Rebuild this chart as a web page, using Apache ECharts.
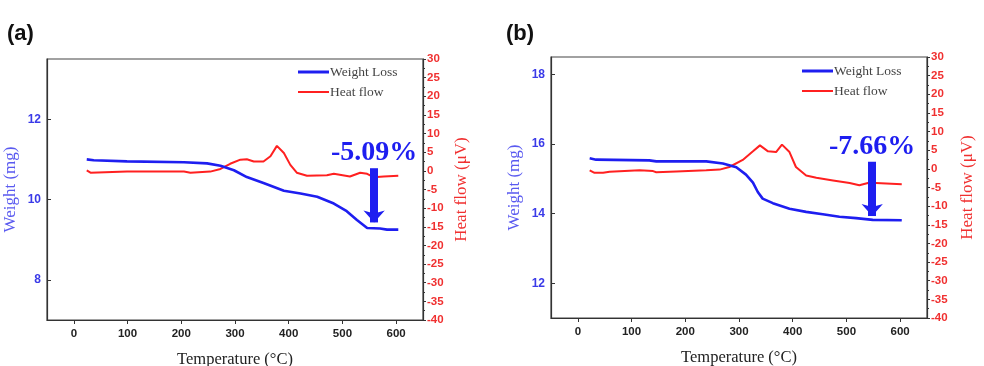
<!DOCTYPE html>
<html>
<head>
<meta charset="utf-8">
<script src="https://cdn.jsdelivr.net/npm/echarts@6/dist/echarts.min.js"></script>
<style>
html,body{margin:0;padding:0;background:#fff;}
#Chart{width:984px;height:366px;}
</style>
</head>
<body>
<div id="Chart"></div>
<script>
// panel (a)
var tempA_w=[24,37,99,205,248,273,298,322,353,391,422,453,484,508,527,546,570,583,604]
var weightA=[11.0,10.98,10.95,10.93,10.9,10.84,10.73,10.56,10.41,10.22,10.15,10.07,9.9,9.71,9.49,9.29,9.28,9.25,9.25]
var tempA_h=[24,31,99,205,217,254,273,291,310,322,335,353,366,378,391,403,415,434,471,484,514,533,546,558,577,604]
var heatA=[0.1,-0.5,-0.2,-0.2,-0.5,-0.2,0.5,1.9,3.0,3.1,2.5,2.5,3.9,6.7,4.8,1.6,-0.5,-1.3,-1.2,-0.8,-1.5,-0.5,-0.8,-1.7,-1.5,-1.3]
var arrowA=[[559,10.78],[559,9.43]]
var lossA='-5.09%'

// panel (b)
var tempB_w=[22,34,133,146,239,270,295,313,326,335,344,363,394,425,456,487,518,549,603]
var weightB=[15.59,15.55,15.53,15.50,15.50,15.44,15.33,15.12,14.89,14.62,14.43,14.30,14.14,14.05,13.98,13.91,13.87,13.82,13.81]
var tempB_h=[22,31,47,59,115,140,146,183,239,264,282,307,326,339,354,369,380,394,406,425,444,475,506,524,540,555,603]
var heatB=[-0.4,-1.05,-1.05,-0.8,-0.4,-0.6,-0.9,-0.7,-0.4,-0.2,0.5,2.4,4.7,6.3,4.7,4.5,6.5,4.5,0.5,-1.8,-2.4,-3.1,-3.8,-4.4,-3.8,-3.8,-4.1]
var arrowB=[[548,15.49],[548,13.93]]
var lossB='-7.66%'

// axes
var xTicks=[0,100,200,300,400,500,600]
var wTicksA=[8,10,12]
var wTicksB=[12,14,16,18]

var blue='#1e1ef0',red='#ff2020'
var serif='"Liberation Serif","Times New Roman",serif'
var sans='"Liberation Sans",Arial,sans-serif'

//组合数据
function pairs(xs,ys){
	var out=[]
	for(var i=0;i<xs.length;i++) out.push([xs[i],ys[i]])
	return out
}

function xAxisCfg(gi){
	return {
		type:'value',gridIndex:gi,min:-50,max:650,
		name:'Temperature (°C)',nameLocation:'middle',nameGap:31,
		nameTextStyle:{fontFamily:serif,fontSize:16.5,color:'#222'},
		axisLine:{show:true,onZero:false,lineStyle:{color:'#333',width:1.2}},
		axisTick:{show:true,inside:false,length:4,customValues:xTicks,lineStyle:{color:'#333'}},
		axisLabel:{customValues:xTicks,fontFamily:sans,fontWeight:'bold',fontSize:11.5,color:'#222',margin:8},
		splitLine:{show:false}
	}
}
function wAxisCfg(gi,min,max,ticks,gap){
	return {
		type:'value',gridIndex:gi,position:'left',min:min,max:max,
		name:'Weight (mg)',nameLocation:'middle',nameGap:gap,nameRotate:90,
		nameTextStyle:{fontFamily:serif,fontSize:17,color:'#5a5af0'},
		axisLine:{show:true,onZero:false,lineStyle:{color:'#333',width:1.2}},
		axisTick:{show:true,inside:true,length:4,customValues:ticks,lineStyle:{color:'#333'}},
		axisLabel:{customValues:ticks,fontFamily:sans,fontWeight:'bold',fontSize:12,color:'#3a3ae8',margin:6},
		splitLine:{show:false}
	}
}
function hAxisCfg(gi,gap){
	return {
		type:'value',gridIndex:gi,position:'right',min:-40,max:30,interval:5,
		name:'Heat flow (μV)',nameLocation:'middle',nameGap:gap,nameRotate:90,
		nameTextStyle:{fontFamily:serif,fontSize:17,color:'#f03030'},
		axisLine:{show:true,onZero:false,lineStyle:{color:'#333',width:1.2}},
		axisTick:{show:true,inside:false,length:3,lineStyle:{color:'#333'}},
		minorTick:{show:true,splitNumber:2,length:2,lineStyle:{color:'#333'}},
		axisLabel:{fontFamily:sans,fontWeight:'bold',fontSize:11.5,color:'#f03030',margin:4},
		splitLine:{show:false}
	}
}
//箭头标注
function arrowLine(pts,txt){
	return {
		silent:true,symbol:['none','arrow'],symbolSize:[16,12],
		lineStyle:{color:blue,width:8,type:'solid'},
		label:{show:true,position:'start',distance:1,formatter:txt,fontFamily:serif,fontWeight:'bold',fontSize:28,color:blue},
		data:[[{coord:pts[0]},{coord:pts[1]}]]
	}
}
function legendCfg(left,top,tag){
	return {
		data:[{name:'Weight Loss '+tag,icon:'path://M0,0H31V3H0Z'},{name:'Heat flow '+tag,icon:'path://M0,0H31V2H0Z'}],
		formatter:function(n){return n.replace(/ [AB]$/,'')},
		orient:'vertical',left:left,top:top,itemWidth:31,itemHeight:3,itemGap:6,
		textStyle:{fontFamily:serif,fontSize:13.5,color:'#444',padding:[0,0,0,-4]}
	}
}

function drawChar(){
	var myChart=echarts.init(document.getElementById('Chart'))
	var option={
		animation:false,
		title:[
			{text:'(a)',left:2,top:18,textStyle:{fontFamily:sans,fontSize:22,fontWeight:'bold',color:'#111'}},
			{text:'(b)',left:501,top:18,textStyle:{fontFamily:sans,fontSize:22,fontWeight:'bold',color:'#111'}}
		],
		legend:[legendCfg(293,60,'A'),legendCfg(797,59,'B')],
		grid:[
			{left:47,top:59,width:376,height:261,outerBoundsMode:'none',show:true,borderColor:'#444',borderWidth:1.2,backgroundColor:'transparent'},
			{left:551,top:57,width:376,height:261,outerBoundsMode:'none',show:true,borderColor:'#444',borderWidth:1.2,backgroundColor:'transparent'}
		],
		xAxis:[xAxisCfg(0),xAxisCfg(1)],
		yAxis:[
			wAxisCfg(0,7,13.5,wTicksA,28),
			hAxisCfg(0,30),
			wAxisCfg(1,11,18.5,wTicksB,28),
			hAxisCfg(1,32)
		],
		series:[
			{name:'Weight Loss A',type:'line',xAxisIndex:0,yAxisIndex:0,symbol:'none',data:pairs(tempA_w,weightA),
				lineStyle:{color:blue,width:2.6},itemStyle:{color:blue},markLine:arrowLine(arrowA,lossA),z:3},
			{name:'Heat flow A',type:'line',xAxisIndex:0,yAxisIndex:1,symbol:'none',data:pairs(tempA_h,heatA),
				lineStyle:{color:red,width:2},itemStyle:{color:red},z:2},
			{name:'Weight Loss B',type:'line',xAxisIndex:1,yAxisIndex:2,symbol:'none',data:pairs(tempB_w,weightB),
				lineStyle:{color:blue,width:2.6},itemStyle:{color:blue},markLine:arrowLine(arrowB,lossB),z:3},
			{name:'Heat flow B',type:'line',xAxisIndex:1,yAxisIndex:3,symbol:'none',data:pairs(tempB_h,heatB),
				lineStyle:{color:red,width:2},itemStyle:{color:red},z:2}
		]
	}
	myChart.setOption(option)
}

drawChar()
</script>
</body>
</html>
